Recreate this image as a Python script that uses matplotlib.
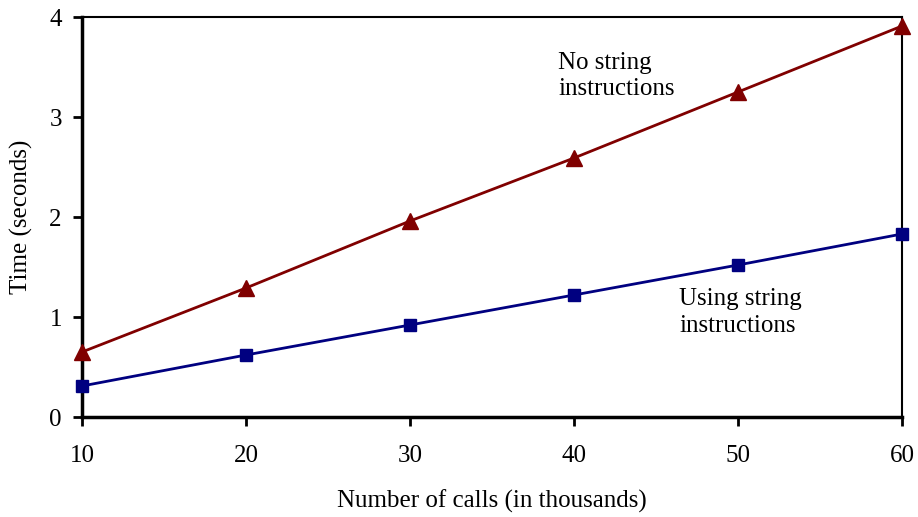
import matplotlib
matplotlib.use("Agg")
import matplotlib.pyplot as plt

calls = [10, 20, 30, 40, 50, 60]
no_string = [0.65, 1.29, 1.96, 2.59, 3.25, 3.91]
using_string = [0.31, 0.62, 0.92, 1.22, 1.52, 1.83]
xticks = [10, 20, 30, 40, 50, 60]
yticks = [0, 1, 2, 3, 4]

plt.rcParams['font.family'] = ['Liberation Serif', 'DejaVu Serif']

fig = plt.figure(figsize=(9.18, 5.17), dpi=100)
ax = fig.add_axes([82/918, 1 - 417/517, (902-82)/918, (417-17)/517])

ax.plot(calls, no_string, color='#800000', lw=2.0, marker='^', markersize=11, clip_on=False, zorder=3)
ax.plot(calls, using_string, color='#000080', lw=2.0, marker='s', markersize=9, clip_on=False, zorder=3)

ax.set_xlim(10, 60)
ax.set_ylim(0, 4)
ax.set_xticks(xticks)
ax.set_yticks(yticks)
ax.tick_params(labelsize=18, direction='out', length=6.5, width=2)
ax.tick_params(axis='x', pad=14)
ax.tick_params(axis='y', pad=8)
for s in ['left', 'bottom']:
    ax.spines[s].set_linewidth(2.5)
for s in ['top', 'right']:
    ax.spines[s].set_linewidth(1.5)

ax.set_xlabel('Number of calls (in thousands)', fontsize=18, labelpad=16)
ax.set_ylabel('Time (seconds)', fontsize=18, labelpad=12)

ax.text(0.5805, 0.8525, 'No string\ninstructions', transform=ax.transAxes, fontsize=18,
        ha='left', va='center', linespacing=1.25)
ax.text(0.728, 0.261, 'Using string\ninstructions', transform=ax.transAxes, fontsize=18,
        ha='left', va='center', linespacing=1.25)

fig.savefig('out.png', dpi=100)
